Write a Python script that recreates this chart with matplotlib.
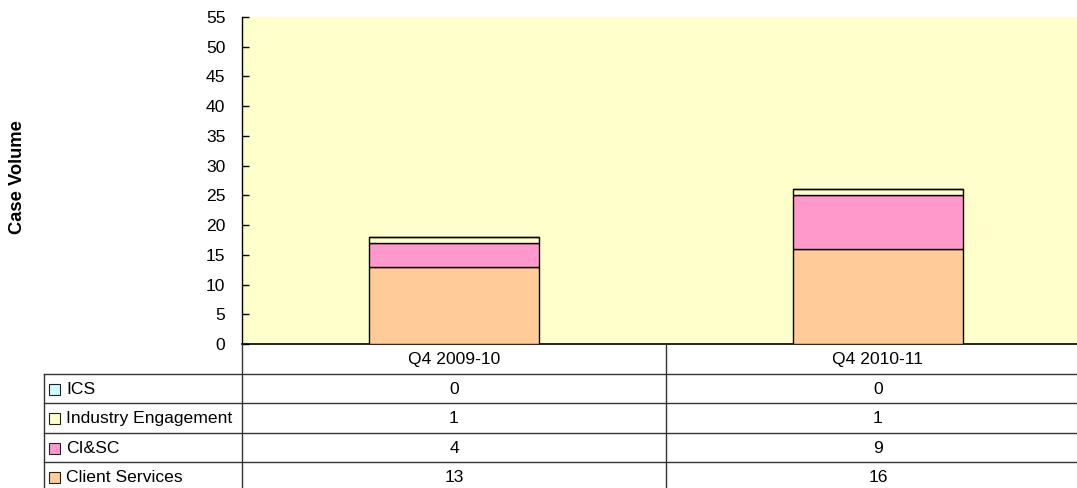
import matplotlib
matplotlib.use("Agg")
import matplotlib.pyplot as plt
from matplotlib.lines import Line2D
from matplotlib.patches import Rectangle

plt.rcParams['font.family'] = ['Liberation Sans', 'DejaVu Sans']

categories = ["Q4 2009-10", "Q4 2010-11"]
series_names = ["Client Services", "CI&SC", "Industry Engagement", "ICS"]
client_services = [13, 16]
ci_sc = [4, 9]
industry_engagement = [1, 1]
ics = [0, 0]
series_values = [client_services, ci_sc, industry_engagement, ics]
colors = ["#FFCC99", "#FF99CC", "#FFFFCC", "#CCFFFF"]
yticks = list(range(0, 56, 5))

FS = 12.6
W, H = 1077, 488
fig = plt.figure(figsize=(W / 100, H / 100), dpi=100)

# plot area (extends slightly past the right edge, like the reference)
L, R, T, B = 242, 1090, 17, 344
ax = fig.add_axes([L / W, 1 - B / H, (R - L) / W, (B - T) / H])
ax.set_facecolor("#FFFFCC")
ax.set_xlim(0, len(categories))
ax.set_ylim(0, 55)
ax.set_yticks(yticks)
ax.tick_params(axis='y', direction='in', length=5, width=1, labelsize=FS, pad=12)
ax.set_xticks([])
for s in ["top", "right"]:
    ax.spines[s].set_visible(False)
ax.spines["left"].set_linewidth(1)
ax.spines["bottom"].set_linewidth(1.2)

xpos = [i + 0.5 for i in range(len(categories))]
bottom = [0] * len(categories)
for vals, col in zip(series_values, colors):
    ax.bar(xpos, vals, width=0.4, bottom=bottom, color=col, edgecolor="black",
           linewidth=1, zorder=3)
    bottom = [b + v for b, v in zip(bottom, vals)]

fig.text(18 / W, 1 - 177 / H, "Case Volume", rotation=90, ha="center", va="center",
         fontsize=13.2, fontweight="bold")

# data table drawn in pixel coords below the axes
ov = fig.add_axes([0, 0, 1, 1], facecolor="none")
ov.set_xlim(0, W)
ov.set_ylim(H, 0)
ov.axis("off")

def px(xd):
    return ax.transData.transform((xd, 0))[0]

col_edges = [px(i) for i in range(len(categories) + 1)]
row_h = 29.5
n_rows = len(series_names)
tab_left = 44
lc = "#333333"
# header row
hdr_top = B
hdr_bot = B + row_h
for i, cat in enumerate(categories):
    ov.text((col_edges[i] + col_edges[i + 1]) / 2, (hdr_top + hdr_bot) / 2 + 1, cat,
            ha="center", va="center", fontsize=FS)
for xe in col_edges[:-1]:
    ov.add_line(Line2D([xe, xe], [hdr_top, H + 10], color=lc, lw=1))
ov.add_line(Line2D([tab_left, tab_left], [hdr_bot, H + 10], color=lc, lw=1))
for r in range(n_rows):
    y0 = hdr_bot + r * row_h
    ov.add_line(Line2D([tab_left, W + 10], [y0, y0], color=lc, lw=1))
    idx = n_rows - 1 - r
    yc = y0 + row_h / 2 + 1
    ov.add_patch(Rectangle((tab_left + 5, yc - 5.5), 11, 11, facecolor=colors[idx],
                           edgecolor="#222222", lw=0.8))
    ov.text(tab_left + 22, yc, series_names[idx], ha="left", va="center", fontsize=FS)
    for i in range(len(categories)):
        ov.text((col_edges[i] + col_edges[i + 1]) / 2, yc, str(series_values[idx][i]),
                ha="center", va="center", fontsize=FS)

fig.savefig("out.png", dpi=100)
